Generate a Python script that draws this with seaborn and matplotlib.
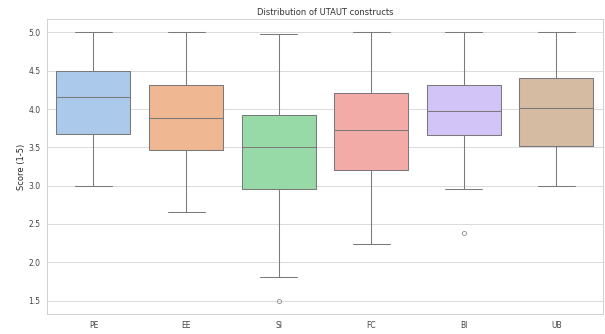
import numpy as np
import pandas as pd
import seaborn as sns
import matplotlib
matplotlib.use("Agg")
import matplotlib.pyplot as plt

categories = ["PE", "EE", "SI", "FC", "BI", "UB"]
whisker_low = [2.99, 2.65, 1.81, 2.24, 2.95, 3.00]
q1 = [3.67, 3.47, 2.96, 3.20, 3.66, 3.52]
median = [4.16, 3.88, 3.51, 3.73, 3.98, 4.02]
q3 = [4.50, 4.32, 3.92, 4.21, 4.32, 4.40]
whisker_high = [5.00, 5.00, 4.98, 5.00, 5.00, 5.00]
outliers = {"SI": [1.50], "BI": [2.38]}

rows = []
for i, c in enumerate(categories):
    if c in outliers:
        vals = outliers[c] + [whisker_low[i], q1[i], q1[i], median[i], q3[i], q3[i], whisker_high[i], whisker_high[i]]
    else:
        vals = [whisker_low[i], q1[i], median[i], q3[i], whisker_high[i]]
    for v in vals:
        rows.append({"Construct": c, "Score": v})
df = pd.DataFrame(rows)

sns.set_theme(style="whitegrid")
plt.rcParams["text.color"] = "#333333"
plt.rcParams["xtick.color"] = "#444444"
plt.rcParams["ytick.color"] = "#444444"
fig, ax = plt.subplots(figsize=(12.1, 6.68), dpi=50)
sns.boxplot(data=df, x="Construct", y="Score", hue="Construct", palette="pastel",
            order=categories, legend=False, ax=ax, linewidth=1.5, linecolor="#7a7a7a")
ax.set_title("Distribution of UTAUT constructs")
ax.set_xlabel("")
ax.set_ylabel("Score (1-5)")
fig.subplots_adjust(left=0.078, right=0.996, top=0.943, bottom=0.06)
fig.savefig("out.png", dpi=50)
